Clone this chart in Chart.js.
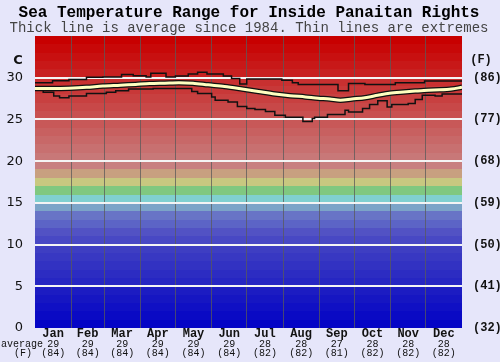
<!DOCTYPE html>
<html lang="en">
<head>
  <meta charset="UTF-8" />
  <title>Sea Temperature Range for Inside Panaitan Rights</title>
  <script src="https://cdn.jsdelivr.net/npm/chart.js"></script>
  <style>
    body { margin: 0; background: #e6e6fa; }
    #wrap { width: 500px; height: 362px; }
  </style>
</head>
<body>
  <div id="wrap"><canvas id="chart" width="500" height="362"></canvas></div>

  <script>
    // day-of-year breakpoints for the extremes (stepped) and the average line
    const upperDays = [0, 15, 29, 44, 58, 74, 84, 95, 99, 112, 120, 131, 139, 147, 161, 168, 175, 181, 211, 220, 225, 259, 268, 282, 308, 333, 365];
    const upperTemps = [29.4, 29.65, 29.8, 30.05, 30.1, 30.4, 30.25, 30.1, 30.55, 30.1, 30.2, 30.45, 30.65, 30.45, 30.2, 29.9, 29.25, 29.85, 29.7, 29.4, 29.2, 28.45, 29.3, 29.2, 29.4, 29.6, 29.6];

    const lowerDays = [0, 7, 16, 21, 29, 44, 61, 69, 80, 101, 134, 139, 151, 154, 165, 173, 181, 188, 197, 205, 214, 229, 237, 239, 250, 265, 268, 280, 286, 293, 301, 305, 319, 325, 331, 342, 348, 365];
    const lowerTemps = [28.5, 28.25, 27.8, 27.6, 27.8, 28.1, 28.25, 28.45, 28.65, 28.7, 28.35, 28.1, 27.7, 27.3, 27.1, 26.55, 26.3, 26.2, 25.95, 25.5, 25.25, 24.75, 25.1, 25.25, 25.6, 26.1, 25.9, 26.3, 26.8, 27.25, 26.5, 26.8, 26.9, 27.4, 27.9, 27.8, 28.05, 28.05];

    const avgDays = [0, 15, 29, 44, 58, 73, 86, 98, 111, 123, 135, 148, 162, 177, 191, 205, 218, 231, 242, 252, 261, 271, 282, 293, 303, 315, 325, 336, 346, 356, 365];
    const avgTemps = [28.7, 28.7, 28.75, 28.85, 29.0, 29.1, 29.2, 29.3, 29.35, 29.4, 29.35, 29.15, 28.95, 28.65, 28.35, 28.05, 27.85, 27.7, 27.55, 27.45, 27.3, 27.45, 27.6, 27.9, 28.15, 28.3, 28.4, 28.5, 28.55, 28.65, 28.85];

    const months = ['Jan', 'Feb', 'Mar', 'Apr', 'May', 'Jun', 'Jul', 'Aug', 'Sep', 'Oct', 'Nov', 'Dec'];
    const monthStarts = [0, 31, 59, 90, 120, 151, 181, 212, 243, 273, 304, 334, 365];
    const monthAvgC = [29, 29, 29, 29, 29, 29, 28, 28, 27, 28, 28, 28];
    const monthAvgF = [84, 84, 84, 84, 84, 84, 82, 82, 81, 82, 82, 82];

    const yTicksC = [0, 5, 10, 15, 20, 25, 30];
    const yTicksF = ['(32)', '(41)', '(50)', '(59)', '(68)', '(77)', '(86)'];

    // 1 degree colour bands from 0 C up to 35 C
    const bandColors = [
      '#0404c6', '#0a0ac4', '#1010c4', '#1616c2', '#1c1cc2',
      '#2626c2', '#2c2cc2', '#3232c2', '#3838c2', '#3e3ec2',
      '#4848c4', '#5252c4', '#5c64c6', '#6874c6', '#7ca4c8',
      '#80d0d0', '#80c880', '#c8c880', '#c8a080', '#c88080',
      '#c87878', '#c87070', '#c86868', '#c86060', '#c85858',
      '#c85050', '#c84848', '#c84040', '#c83838', '#c83030',
      '#c82020', '#c81818', '#c81010', '#c80808', '#c80000'
    ];

    const pts = (xs, ys) => xs.map((d, i) => ({ x: d, y: ys[i] }));

    const bandsPlugin = {
      id: 'bands',
      beforeDraw(chart) {
        const { ctx, chartArea, scales } = chart;
        ctx.save();
        bandColors.forEach((c, i) => {
          const top = Math.round(scales.y.getPixelForValue(i + 1));
          const bot = Math.round(scales.y.getPixelForValue(i));
          ctx.fillStyle = c;
          ctx.fillRect(chartArea.left, top, chartArea.right - chartArea.left, bot - top);
        });
        ctx.restore();
      },
      afterDraw(chart) {
        const { ctx, scales } = chart;
        const x = scales.x, y = scales.y;
        ctx.save();
        ctx.textAlign = 'center';
        ctx.textBaseline = 'middle';
        ctx.fillStyle = '#000';
        ctx.font = 'bold 16px "Liberation Mono"';
        ctx.fillText('Sea Temperature Range for Inside Panaitan Rights', 249, 13);
        ctx.fillStyle = '#444';
        ctx.font = '14px "Liberation Mono"';
        ctx.fillText('Thick line is average since 1984. Thin lines are extremes', 249, 28);

        ctx.fillStyle = '#111';
        ctx.font = 'bold 13px "DejaVu Sans"';
        ctx.fillText('C', 18, y.getPixelForValue(32.1));
        ctx.font = 'bold 12px "Liberation Mono"';
        ctx.fillText('(F)', 481, y.getPixelForValue(32.1));

        months.forEach((m, i) => {
          const cx = x.getPixelForValue((monthStarts[i] + monthStarts[i + 1]) / 2);
          ctx.font = 'bold 12px "Liberation Mono"';
          ctx.fillText(m, cx, 334);
          ctx.font = '10px "Liberation Mono"';
          ctx.fillText(String(monthAvgC[i]), cx, 344);
          ctx.fillText('(' + monthAvgF[i] + ')', cx, 353);
        });
        ctx.font = '10px "Liberation Mono"';
        ctx.fillText('average', 22, 344);
        ctx.fillText('(F)', 23, 353);
        ctx.restore();
      }
    };

    new Chart(document.getElementById('chart'), {
      type: 'line',
      data: {
        datasets: [
          { data: pts(avgDays, avgTemps), borderColor: '#ffffc0', borderWidth: 3, tension: 0.3 },
          { data: pts(avgDays, avgTemps), borderColor: '#111', borderWidth: 5.5, tension: 0.3 },
          { data: pts(upperDays, upperTemps), borderColor: '#111', borderWidth: 1.5, stepped: true },
          { data: pts(lowerDays, lowerTemps), borderColor: '#111', borderWidth: 1.5, stepped: true }
        ]
      },
      options: {
        responsive: false,
        animation: false,
        devicePixelRatio: 1,
        layout: { padding: { top: 36, bottom: 34 } },
        elements: { point: { radius: 0 } },
        plugins: { legend: { display: false }, tooltip: { enabled: false } },
        scales: {
          x: {
            type: 'linear', min: 0, max: 365,
            afterBuildTicks: axis => { axis.ticks = monthStarts.map(v => ({ value: v })); },
            ticks: { display: false },
            grid: {
              drawTicks: false, lineWidth: 1,
              color: ctx => (ctx.tick && (ctx.tick.value === 0 || ctx.tick.value === 365)) ? 'rgba(0,0,0,0)' : 'rgba(90,90,90,0.75)'
            },
            border: { display: false }
          },
          y: {
            min: 0, max: 35, position: 'left',
            afterBuildTicks: axis => { axis.ticks = yTicksC.map(v => ({ value: v })); },
            afterFit: axis => { axis.width = 35; },
            ticks: { color: '#111', padding: 12, font: { family: 'DejaVu Sans', size: 13 } },
            grid: {
              drawTicks: false, lineWidth: 2,
              color: ctx => (ctx.tick && ctx.tick.value === 0) ? 'rgba(0,0,0,0)' : '#f4f4f4'
            },
            border: { display: false }
          },
          y2: {
            min: 0, max: 35, position: 'right',
            afterBuildTicks: axis => { axis.ticks = yTicksC.map(v => ({ value: v })); },
            afterFit: axis => { axis.width = 38; },
            ticks: {
              color: '#111', padding: 3,
              font: { family: 'Liberation Mono', size: 12, weight: 'bold' },
              callback: (v, i) => yTicksF[i]
            },
            grid: { display: false },
            border: { display: false }
          }
        }
      },
      plugins: [bandsPlugin]
    });
  </script>
</body>
</html>
